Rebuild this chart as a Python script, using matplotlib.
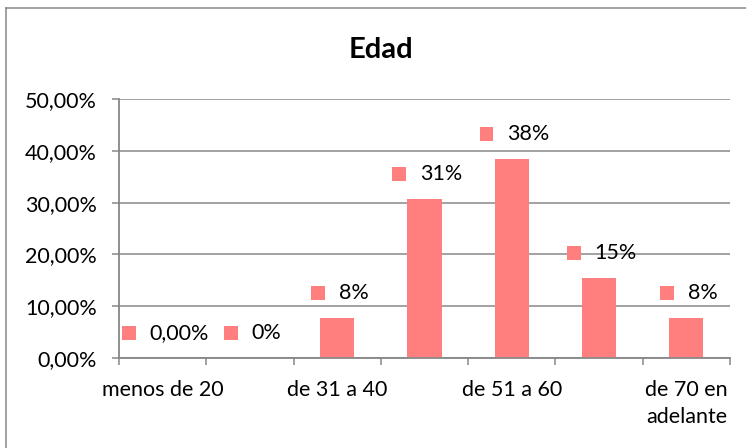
import matplotlib.pyplot as plt
from matplotlib import ticker
from matplotlib.lines import Line2D
from matplotlib.patches import Rectangle
from matplotlib.offsetbox import DrawingArea, TextArea, HPacker, AnnotationBbox

plt.rcParams['font.family'] = ['Lato', 'DejaVu Sans']

categorias = ["menos de 20", "de 20 a 30", "de 31 a 40", "de 41 a 50",
              "de 51 a 60", "de 61 a 70", "de 70 en\nadelante"]
valores = [0.0, 0.0, 0.0769, 0.3077, 0.3846, 0.1538, 0.0769]
etiquetas = ["0,00%", "0%", "8%", "31%", "38%", "15%", "8%"]
titulo = "Edad"

color_barra = "#FF7F7F"
gris = "#878787"
fs = 15.5

fig = plt.figure(figsize=(7.46, 4.48), dpi=100)
ax = fig.add_axes([119/746, 1-358/448, 611/746, 259/448])

x = list(range(len(categorias)))
ax.bar(x, valores, width=0.39, color=color_barra, zorder=3)

ax.set_xlim(-0.5, len(categorias)-0.5)
ax.set_ylim(0, 0.5)

# ticks y y grid
ax.yaxis.set_major_locator(ticker.MultipleLocator(0.1))
ax.yaxis.set_major_formatter(ticker.FuncFormatter(lambda v, p: ("%.2f%%" % (v*100)).replace(".", ",")))
ax.grid(axis="y", color=gris, linewidth=1.1, zorder=0)
ax.tick_params(axis="y", length=5, width=1.1, color=gris, pad=11, labelsize=fs, labelcolor="black")

# solo una de cada dos etiquetas del eje x
ax.set_xticks(x[::2])
ax.set_xticklabels(categorias[::2], linespacing=1.45)
ax.set_xticks([i-0.5 for i in range(len(categorias)+1)], minor=True)
ax.tick_params(axis="x", which="major", length=0, pad=16, labelsize=fs)
ax.tick_params(axis="x", which="minor", length=5, width=1.1, color=gris)

for s in ["top", "right"]:
    ax.spines[s].set_visible(False)
for s in ["left", "bottom"]:
    ax.spines[s].set_color(gris)
    ax.spines[s].set_linewidth(1.3)
    ax.spines[s].set_zorder(4)

# etiquetas de datos con la clave de leyenda
for xi, v, lab in zip(x, valores, etiquetas):
    da = DrawingArea(10, 10, 0, 0)
    da.add_artist(Rectangle((0, 0), 10, 10, facecolor=color_barra, edgecolor="none"))
    ta = TextArea(lab, textprops=dict(fontsize=fs, color="black"))
    pack = HPacker(children=[da, ta], align="center", pad=0, sep=10)
    ab = AnnotationBbox(pack, (xi, v), xybox=(2, 18), boxcoords="offset points",
                        frameon=False, box_alignment=(0.5, 0.5), annotation_clip=False)
    ax.add_artist(ab)

fig.text(381/746, 1-50/448, titulo, ha="center", va="center", fontsize=21, fontweight="bold")

# borde del grafico (recortado a derecha y abajo)
fig.add_artist(Line2D([5.5/746, 5.5/746], [0, 1-8.5/448], color=gris, linewidth=1.1))
fig.add_artist(Line2D([5.5/746, 1], [1-8.5/448, 1-8.5/448], color=gris, linewidth=1.1))

fig.savefig("out.png", dpi=100)
